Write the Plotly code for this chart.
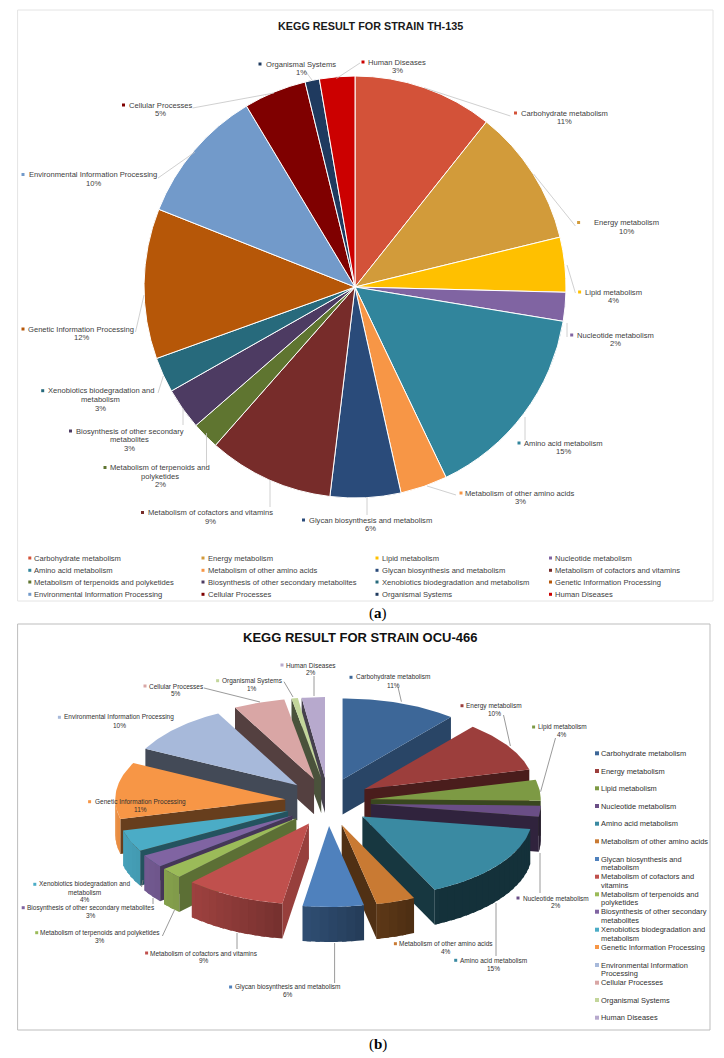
import math
import plotly.graph_objects as go

W, H = 724, 1058
categories = ["Carbohydrate metabolism", "Energy metabolism", "Lipid metabolism", "Nucleotide metabolism",
              "Amino acid metabolism", "Metabolism of other amino acids", "Glycan biosynthesis and metabolism",
              "Metabolism of cofactors and vitamins", "Metabolism of terpenoids and polyketides",
              "Biosynthesis of other secondary metabolites", "Xenobiotics biodegradation and metabolism",
              "Genetic Information Processing", "Environmental Information Processing", "Cellular Processes",
              "Organismal Systems", "Human Diseases"]
values_a = [10.7, 10.5, 4.2, 2.2, 15.3, 3.6, 5.4, 9.6, 2.1, 3.2, 2.7, 11.5, 10.4, 4.8, 1.1, 2.7]
values_b = [11.0, 10.1, 4.2, 2.2, 15.5, 3.7, 5.8, 9.6, 2.1, 2.6, 4.3, 11.3, 9.9, 4.9, 0.6, 2.2]
percent_a = [11, 10, 4, 2, 15, 3, 6, 9, 2, 3, 3, 12, 10, 5, 1, 3]
percent_b = [11, 10, 4, 2, 15, 4, 6, 9, 3, 3, 4, 11, 10, 5, 1, 2]
colors_a = ["#D35239", "#D29B3A", "#FFC000", "#8064A2", "#31859C", "#F79646", "#2A4B7A", "#772C2A",
            "#5F7530", "#4D3B62", "#276A7C", "#B65708", "#729ACA", "#7F0000", "#1F3A5F", "#CC0000"]
colors_b = ["#3D6798", "#9C3E3C", "#7D9A44", "#6A4E86", "#3A8AA2", "#C97A33", "#4F81BD", "#C0504D",
            "#9BBB59", "#8064A2", "#4BACC6", "#F79646", "#A7B9DA", "#D9A6A5", "#C3D69B", "#B7A9CD"]

# label layout: category index -> (text lines, centre x, first line y, swatch x)
labels_a = {
    0: (["Carbohydrate metabolism"], 564, 113, 515.5), 1: (["Energy metabolism"], 626.5, 222.5, 578.6),
    2: (["Lipid metabolism"], 613, 292, 579.6), 3: (["Nucleotide metabolism"], 615, 335, 571.7),
    4: (["Amino acid metabolism"], 563, 443, 519), 5: (["Metabolism of other amino acids"], 520, 493, 461),
    6: (["Glycan biosynthesis and metabolism"], 370, 520, 303.5),
    7: (["Metabolism of cofactors and vitamins"], 210, 512.5, 142.5),
    8: (["Metabolism of terpenoids and", "polyketides"], 160, 467.5, 105),
    9: (["Biosynthesis of other secondary", "metabolites"], 129.5, 431, 70.5),
    10: (["Xenobiotics biodegradation and", "metabolism"], 100.7, 390.7, 42.7),
    11: (["Genetic Information Processing"], 81, 329, 23), 12: (["Environmental Information Processing"], 93, 174.5, 23),
    13: (["Cellular Processes"], 160.5, 105, 123.5), 14: (["Organismal Systems"], 301, 64, 260),
    15: (["Human Diseases"], 397, 62, 363)}
labels_b = {
    0: (["Carbohydrate metabolism"], 393, 677.3, 351), 1: (["Energy metabolism"], 494, 705.7, 462),
    2: (["Lipid metabolism"], 562.4, 727, 533.6), 3: (["Nucleotide metabolism"], 555.5, 898, 518),
    4: (["Amino acid metabolism"], 493.3, 960.3, 455.7), 5: (["Metabolism of other amino acids"], 446, 943.7, 395.4),
    6: (["Glycan biosynthesis and metabolism"], 287.7, 987, 230.6),
    7: (["Metabolism of cofactors and vitamins"], 204, 953, 146.6),
    8: (["Metabolism of terpenoids and polyketides"], 100, 932.7, 36.7),
    9: (["Biosynthesis of other secondary metabolites"], 91.4, 907.7, 23.2),
    10: (["Xenobiotics biodegradation and", "metabolism"], 84.5, 884.3, 34.8),
    11: (["Genetic Information Processing"], 140, 801.7, 89.6), 12: (["Environmental Information Processing"], 119, 717.3, 59.4),
    13: (["Cellular Processes"], 176, 686, 145), 14: (["Organismal Systems"], 252, 680.7, 217.6),
    15: (["Human Diseases"], 311.4, 665, 282)}
leaders_a = [((360, 63), (336.4, 78.5)), ((306, 72), (312, 80)), ((192.6, 108), (274, 93)), ((510.4, 116), (424.6, 88)),
             ((158, 178), (195, 152)), ((575.4, 226), (533.6, 174)), ((575.4, 293), (567, 265)), ((567, 337), (567, 323)),
             ((525, 440), (525, 417)), ((456, 495), (427, 486)), ((367, 515), (367, 497)), ((270, 507), (270, 480)),
             ((206.5, 468), (206.5, 433)), ((183, 425), (183, 408)), ((158, 393), (163.3, 376)), ((135.5, 332), (144, 295))]
leaders_b = [((314, 676), (314, 696)), ((398, 687), (401.4, 701.7)), ((284, 681.7), (293, 697)), ((204, 688), (260, 702)),
             ((503.5, 715), (510.4, 746)), ((555.5, 738), (540.6, 791.7)), ((540, 853), (540, 893)), ((496, 903), (496, 956)),
             ((334.6, 943), (334.6, 983)), ((237, 933), (237, 949)), ((162.4, 936), (174.5, 910)), ((153, 904), (153, 898)),
             ((141.5, 887), (143, 880))]
legend_a_rows = [558, 570.3, 582, 594.3]
legend_a_cols = [34.3, 207.5, 381.5, 555]
legend_b_rows = [([753.3]), ([771]), ([788.3]), ([806]), ([823.7]), ([841.3]), ([859, 867.7]), ([876.7, 885]),
                 ([894.3, 902.7]), ([911.7, 920.3]), ([929.7, 938]), ([947]), ([965, 973.7]), ([982.7]), ([1000]), ([1017.7])]
legend_b_lines = [["Carbohydrate metabolism"], ["Energy metabolism"], ["Lipid metabolism"], ["Nucleotide metabolism"],
                  ["Amino acid metabolism"], ["Metabolism of other amino acids"], ["Glycan biosynthesis and", "metabolism"],
                  ["Metabolism of cofactors and", "vitamins"], ["Metabolism of terpenoids and", "polyketides"],
                  ["Biosynthesis of other secondary", "metabolites"], ["Xenobiotics biodegradation and", "metabolism"],
                  ["Genetic Information Processing"], ["Environmental Information", "Processing"], ["Cellular Processes"],
                  ["Organismal Systems"], ["Human Diseases"]]

FONT = "Liberation Sans"
fig = go.Figure()
annotations, shapes = [], []


def text(x, y, s, size=8, color="#404040", anchor="center", family=FONT):
    annotations.append(dict(x=x, y=y, xref="x", yref="y", text=s, showarrow=False, xanchor=anchor, yanchor="middle",
                            font=dict(family=family, size=size, color=color), borderpad=0, borderwidth=0))


def swatches(xs, ys, cols, size):
    fig.add_trace(go.Scatter(x=xs, y=ys, mode="markers", hoverinfo="skip", showlegend=False,
                             marker=dict(symbol="square", size=size, color=cols, line=dict(width=0))))


def shade(hexc, f):
    r, g, b = int(hexc[1:3], 16), int(hexc[3:5], 16), int(hexc[5:7], 16)
    return f"rgb({int(r*f)},{int(g*f)},{int(b*f)})"


def interp(t, pts):
    if t <= pts[0][0]:
        return pts[0][1]
    for (a, fa), (b, fb) in zip(pts, pts[1:]):
        if t <= b:
            return fa + (fb - fa) * (t - a) / (b - a)
    return pts[-1][1]


def poly(xs, ys, col):
    fig.add_trace(go.Scatter(x=xs + xs[:1], y=ys + ys[:1], mode="lines", fill="toself", fillcolor=col,
                             line=dict(color=col, width=0), hoverinfo="skip", showlegend=False))


# frames
shapes.append(dict(type="rect", xref="x", yref="y", x0=17.6, y0=10, x1=713, y1=601,
                   line=dict(color="#E4E4E4", width=1), fillcolor="rgba(0,0,0,0)"))
shapes.append(dict(type="rect", xref="x", yref="y", x0=17.6, y0=624, x1=710, y1=1030,
                   line=dict(color="#BDBDBD", width=1), fillcolor="rgba(0,0,0,0)"))

# ---------- panel (a): flat pie
cx, cy, r = 355, 287, 211
fig.add_trace(go.Pie(labels=categories, values=values_a, sort=False, direction="clockwise", rotation=0, textinfo="none",
                     hoverinfo="label+percent", showlegend=False, marker=dict(colors=colors_a, line=dict(color="white", width=1)),
                     domain=dict(x=[(cx - r) / W, (cx + r) / W], y=[1 - (cy + r) / H, 1 - (cy - r) / H])))

# ---------- panel (b): exploded pie with depth, derived from values_b
C3X, C3Y, RX, RY, EX, EY, DEPTH = 328, 802, 170, 81, 43, 24, 35
total = sum(values_b)
slices, acc = [], 0
for i, v in enumerate(values_b):
    a0, a1 = acc / total * 360, (acc + v) / total * 360
    acc += v
    slices.append((i, a0, a1))
slices.sort(key=lambda s: -math.cos(math.radians((s[1] + s[2]) / 2)))
for i, a0, a1 in slices:
    mid = math.radians((a0 + a1) / 2)
    ax, ay = C3X + EX * math.sin(mid), C3Y - EY * math.cos(mid)
    col = colors_b[i]

    def P(t):
        t = math.radians(t)
        return ax + RX * math.sin(t), ay - RY * math.cos(t)

    # radial cut faces that look toward the viewer
    if math.sin(math.radians(a0)) < -1e-6:
        px, py = P(a0)
        f = interp(a0, [(187, .8), (220, .62), (250, .42), (360, .38)])
        poly([ax, px, px, ax], [ay, py, py + DEPTH, ay + DEPTH], shade(col, f))
    if math.sin(math.radians(a1)) > 1e-6:
        px, py = P(a1)
        f = interp(a1, [(39, .68), (76, .48), (151, .4)])
        poly([ax, px, px, ax], [ay, py, py + DEPTH, ay + DEPTH], shade(col, f))
    # outer rim, in overlapping strips that follow the light
    lo, hi = max(a0, 90), min(a1, 270)
    t = lo
    while t < hi - 1e-6:
        t2 = min(t + 3, hi)
        te = min(t2 + 1.5, hi)
        p1, p2 = P(t), P(te)
        mt = math.radians((t + t2) / 2)
        f = max(0.36, 0.55 - 0.4 * math.sin(mt))
        poly([p1[0], p2[0], p2[0], p1[0]], [p1[1], p2[1], p2[1] + DEPTH, p1[1] + DEPTH], shade(col, f))
        t = t2
    # top face
    n = max(2, int(a1 - a0))
    arc = [P(a0 + (a1 - a0) * k / n) for k in range(n + 1)]
    poly([ax] + [p[0] for p in arc], [ay] + [p[1] for p in arc], col)

# ---------- leaders
for (p, q) in leaders_a:
    shapes.append(dict(type="line", xref="x", yref="y", x0=p[0], y0=p[1], x1=q[0], y1=q[1], line=dict(color="#C4C4C4", width=0.8)))
for (p, q) in leaders_b:
    shapes.append(dict(type="line", xref="x", yref="y", x0=p[0], y0=p[1], x1=q[0], y1=q[1], line=dict(color="#808080", width=0.8)))

# ---------- data labels
LEAD_A, LEAD_B = 8.7, 7.7
for labels, pct, lead, size, cols, col, sw in [(labels_a, percent_a, LEAD_A, 7.6, colors_a, "#404040", 3),
                                               (labels_b, percent_b, LEAD_B, 6.5, colors_b, "#303030", 3)]:
    sx, sy, sc = [], [], []
    for i, (lines, x, y, swx) in labels.items():
        for k, line in enumerate(lines):
            text(x, y + k * lead, line, size=size, color=col)
        text(x, y + len(lines) * lead, f"{pct[i]}%", size=size, color=col)
        sx.append(swx); sy.append(y); sc.append(cols[i])
    swatches(sx, sy, sc, sw)

# ---------- legends
sx, sy, sc = [], [], []
for i, name in enumerate(categories):
    row, c = i // 4, i % 4
    text(legend_a_cols[c], legend_a_rows[row], name, size=7.6, anchor="left")
    sx.append(legend_a_cols[c] - 4.5); sy.append(legend_a_rows[row]); sc.append(colors_a[i])
swatches(sx, sy, sc, 3)
sx, sy, sc = [], [], []
for i, (rows, lines) in enumerate(zip(legend_b_rows, legend_b_lines)):
    for y, line in zip(rows, lines):
        text(601.4, y, line, size=7.45, color="#303030", anchor="left")
    sx.append(597); sy.append(rows[0]); sc.append(colors_b[i])
swatches(sx, sy, sc, 4)

# ---------- titles
annotations.append(dict(x=370.6, y=26, xref="x", yref="y", text="<b>KEGG RESULT FOR STRAIN TH-135</b>", showarrow=False,
                        font=dict(family=FONT, size=10.8, color="#1A1A1A"), xanchor="center", yanchor="middle"))
annotations.append(dict(x=360, y=637, xref="x", yref="y", text="<b>KEGG RESULT FOR STRAIN OCU-466</b>", showarrow=False,
                        font=dict(family=FONT, size=13, color="#111111"), xanchor="center", yanchor="middle"))
text(378, 613, "(<b>a</b>)", size=15, color="#000000", family="Liberation Serif")
text(378, 1044, "(<b>b</b>)", size=15, color="#000000", family="Liberation Serif")

fig.update_layout(width=W, height=H, margin=dict(l=0, r=0, t=0, b=0), paper_bgcolor="white", plot_bgcolor="white",
                  showlegend=False, annotations=annotations, shapes=shapes,
                  xaxis=dict(range=[0, W], visible=False, fixedrange=True),
                  yaxis=dict(range=[H, 0], visible=False, fixedrange=True))
fig.write_html("out.html", config=dict(displayModeBar=False),
               post_script="document.body.style.margin='0';document.documentElement.style.overflow='hidden';")
